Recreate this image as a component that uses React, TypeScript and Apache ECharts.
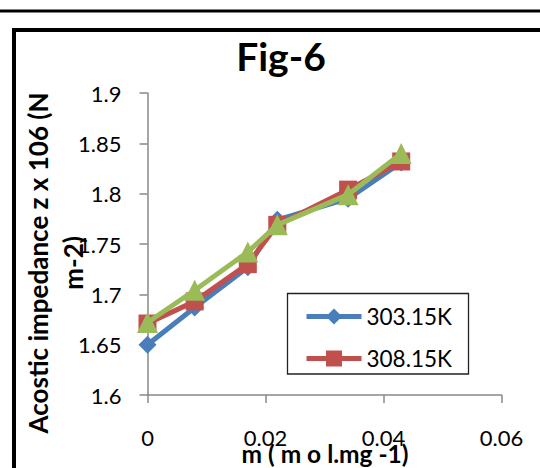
import React, { useEffect, useRef } from "react";
import * as echarts from "echarts";

const mValues = [0, 0.008, 0.017, 0.022, 0.034, 0.043];
const z303 = [1.65, 1.687, 1.727, 1.774, 1.795, 1.831];
const z308 = [1.671, 1.693, 1.73, 1.769, 1.804, 1.832];
const z313 = [1.672, 1.704, 1.742, 1.769, 1.799, 1.84];
const seriesNames = ["303.15K", "308.15K", "313.15K"];
const legendNames = ["303.15K", "308.15K"];
const titleText = "Fig-6";
const yNameLine1 = "Acostic impedance z x 106 (N";
const yNameLine2 = "m-2)";
const xName = "m ( m o l.mg -1)";

const FONT = "Lato";

export default function App() {
  const ref = useRef<HTMLDivElement>(null);
  useEffect(() => {
    const chart = echarts.init(ref.current!, null, { renderer: "svg" });
    const axisColor = "#898989";
    const mk = (vals: number[]) => mValues.map((m, i) => [m, vals[i]]);
    const boldText = (text: string, x: number, y: number, size: number, rot = 0) => ({
      type: "text",
      x,
      y,
      rotation: rot,
      style: {
        text,
        fontSize: size,
        fontWeight: "bold",
        fontFamily: FONT,
        fill: "#000",
        align: "center",
        verticalAlign: "middle",
        textAlign: "center",
        textVerticalAlign: "middle",
      },
      z: 10,
    });
    chart.setOption({
      animation: false,
      backgroundColor: "#ffffff",
      grid: { left: 147.5, right: 38.5, top: 93, bottom: 73, containLabel: false },
      xAxis: {
        type: "value",
        min: 0,
        max: 0.06,
        interval: 0.02,
        axisLine: { show: true, lineStyle: { color: axisColor, width: 1.5 } },
        axisTick: { show: true, length: 8, lineStyle: { color: axisColor, width: 1.5 } },
        axisLabel: { margin: 31, fontSize: 22, fontFamily: FONT, color: "#000" },
        splitLine: { show: false },
      },
      yAxis: {
        type: "value",
        min: 1.6,
        max: 1.9,
        interval: 0.05,
        axisLine: { show: true, lineStyle: { color: axisColor, width: 1.5 } },
        axisTick: { show: true, length: 8, lineStyle: { color: axisColor, width: 1.5 } },
        axisLabel: { margin: 26, fontSize: 22, fontFamily: FONT, color: "#000" },
        splitLine: { show: false },
      },
      legend: {
        data: legendNames,
        orient: "vertical",
        left: 287,
        top: 293,
        padding: [12, 18, 10, 17],
        itemWidth: 55,
        itemHeight: 20,
        itemGap: 19,
        lineStyle: { width: 5 },
        textStyle: { fontSize: 22.5, fontFamily: FONT, color: "#000" },
      },
      series: [
        {
          name: seriesNames[0],
          type: "line",
          data: mk(z303),
          symbol: "diamond",
          symbolSize: 18,
          color: "#4A7EBB",
          lineStyle: { width: 5, color: "#4A7EBB" },
          itemStyle: { color: "#4A7EBB" },
          z: 2,
        },
        {
          name: seriesNames[1],
          type: "line",
          data: mk(z308),
          symbol: "rect",
          symbolSize: 18,
          color: "#C0504D",
          lineStyle: { width: 5, color: "#C0504D" },
          itemStyle: { color: "#C0504D" },
          z: 3,
        },
        {
          name: seriesNames[2],
          type: "line",
          data: mk(z313),
          symbol: "triangle",
          symbolSize: 21,
          color: "#9BBB59",
          lineStyle: { width: 5, color: "#9BBB59" },
          itemStyle: { color: "#9BBB59" },
          z: 4,
        },
      ],
      graphic: [
        {
          type: "line",
          shape: { x1: 0, y1: 11, x2: 540, y2: 11 },
          style: { stroke: "#000", lineWidth: 3 },
          z: 10,
        },
        {
          type: "rect",
          shape: { x: 14, y: 30, width: 700, height: 700 },
          style: { fill: "none", stroke: "#000", lineWidth: 4 },
          z: 10,
        },
        {
          type: "rect",
          shape: { x: 287.5, y: 293.5, width: 181, height: 80.5 },
          style: { fill: "none", stroke: "#222", lineWidth: 1.3 },
          z: 10,
        },
        boldText(titleText, 281, 56, 39),
        boldText(yNameLine1, 38, 263, 26, Math.PI / 2),
        boldText(yNameLine2, 73, 263, 26, Math.PI / 2),
        boldText(xName, 325, 453, 24.5),
      ],
    });
    return () => chart.dispose();
  }, []);
  return (
    <div
      ref={ref}
      style={{ position: "fixed", left: 0, top: 0, width: 540, height: 468 }}
    />
  );
}
